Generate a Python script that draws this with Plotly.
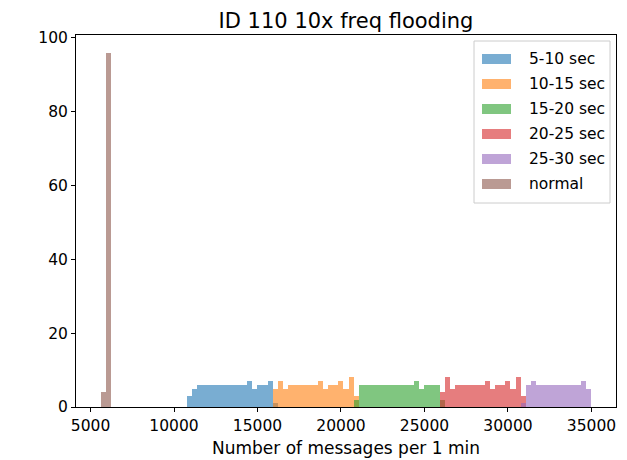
import plotly.graph_objects as go

# shared histogram bins
bin_lo = 5600
bin_hi = 35000
n_bins = 97

series_names = ["5-10 sec", "10-15 sec", "15-20 sec", "20-25 sec", "25-30 sec", "normal"]
series_colors = ["rgba(31,119,180,0.6)", "rgba(255,127,14,0.6)", "rgba(44,160,44,0.6)",
                 "rgba(214,39,40,0.6)", "rgba(148,103,189,0.6)", "rgba(140,86,75,0.6)"]

# first bin index of each series and its counts
blue_start = 17
blue_counts = [3, 5, 6, 6, 6, 6, 6, 6, 6, 6, 6, 6, 7, 5, 6, 6, 7, 1]
orange_start = 34
orange_counts = [5, 7, 5, 6, 6, 6, 6, 6, 6, 7, 5, 6, 6, 7, 5, 8, 3]
green_start = 50
green_counts = [2, 6, 6, 6, 6, 6, 6, 6, 6, 6, 6, 6, 7, 5, 6, 6, 6, 2]
red_start = 67
red_counts = [4, 8, 5, 6, 6, 6, 6, 6, 6, 7, 5, 6, 6, 7, 5, 8, 3]
purple_start = 83
purple_counts = [1, 6, 7, 6, 6, 6, 6, 6, 6, 6, 6, 6, 7, 5]
normal_start = 0
normal_counts = [4, 96]

starts = [blue_start, orange_start, green_start, red_start, purple_start, normal_start]
counts = [blue_counts, orange_counts, green_counts, red_counts, purple_counts, normal_counts]

x_ticks = [5000, 10000, 15000, 20000, 25000, 30000, 35000]
y_ticks = [0, 20, 40, 60, 80, 100]

W, H = 627, 460
L, R, T, B = 68, 608, 27, 399

bw = (bin_hi - bin_lo) / n_bins
fig = go.Figure()
for name, col, s, c in zip(series_names, series_colors, starts, counts):
    xs = [bin_lo + (s + i + 0.5) * bw for i in range(len(c))]
    fig.add_trace(go.Bar(x=xs, y=c, width=[bw] * len(c), name=name, showlegend=False,
                         marker=dict(color=col, line=dict(width=0))))

span = bin_hi - bin_lo
xr = [bin_lo - 0.05 * span, bin_hi + 0.05 * span]
ymax = max(max(c) for c in counts) * 1.05

font = "DejaVu Sans"


def px(x):
    return (x - L) / (R - L)


def py(y):
    return (B - y) / (B - T)


# matplotlib-style legend (box, wide patches, labels)
shapes = []
annotations = []
lx0, lx1, ly0, ly1 = 466, 602, 33, 195
shapes.append(dict(type="rect", xref="paper", yref="paper", x0=px(lx0), x1=px(lx1),
                   y0=py(ly1), y1=py(ly0), line=dict(color="#cccccc", width=1),
                   fillcolor="rgba(255,255,255,0.8)", layer="above"))
for i, (name, col) in enumerate(zip(series_names, series_colors)):
    cy = 51 + i * 25
    shapes.append(dict(type="rect", xref="paper", yref="paper", x0=px(474), x1=px(503),
                       y0=py(cy + 5), y1=py(cy - 5), line=dict(width=0), fillcolor=col,
                       layer="above"))
    annotations.append(dict(x=px(519), y=py(cy), xref="paper", yref="paper", text=name,
                            showarrow=False, xanchor="left", yanchor="middle",
                            font=dict(family=font, size=15.5, color="black")))

fig.update_layout(
    width=W, height=H, barmode="overlay", bargap=0,
    plot_bgcolor="white", paper_bgcolor="white",
    margin=dict(l=L, r=W - R, t=T, b=H - B),
    font=dict(family=font, size=15.5, color="black"),
    title=dict(text="ID 110 10x freq flooding", x=(L + R) / 2 / W, xanchor="center",
               y=1 - 13 / H, yanchor="middle", yref="container",
               font=dict(family=font, size=21, color="black")),
    xaxis=dict(range=xr, tickvals=x_ticks, ticktext=[str(v) for v in x_ticks],
               showgrid=False, zeroline=False, showline=True, mirror=True,
               linecolor="black", linewidth=1, ticks="outside", ticklen=4,
               tickcolor="black", tickfont=dict(size=15.5),
               title=dict(text="Number of messages per 1 min", font=dict(size=17), standoff=8)),
    yaxis=dict(range=[0, ymax], tickvals=y_ticks, showgrid=False, zeroline=False,
               showline=True, mirror=True, linecolor="black", linewidth=1,
               ticks="outside", ticklen=4, tickcolor="black", tickfont=dict(size=15.5)),
    shapes=shapes, annotations=annotations,
    showlegend=False,
)
fig.write_html("out.html")
